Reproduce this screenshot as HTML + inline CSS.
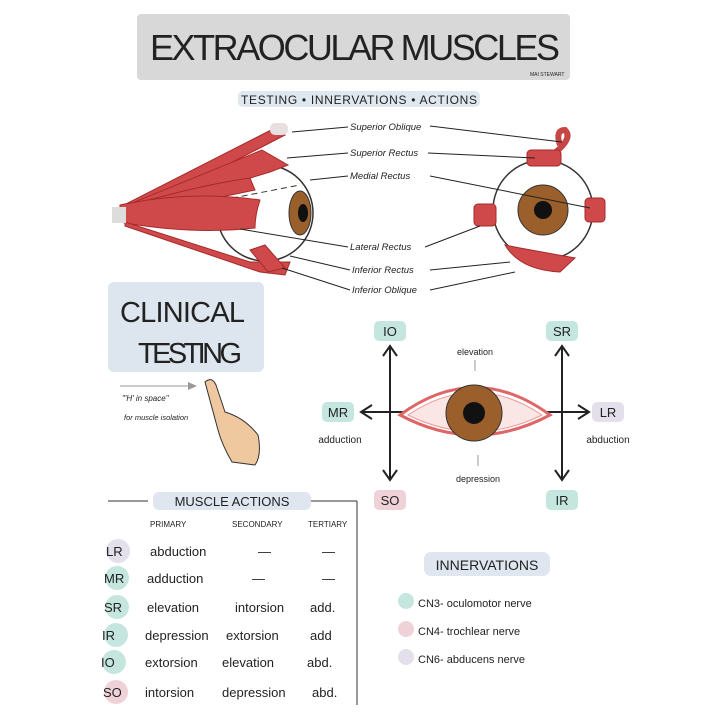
<!DOCTYPE html>
<html><head><meta charset="utf-8"><style>
html,body{margin:0;padding:0;background:#fff;}
svg{display:block;}
text{font-family:"Liberation Sans",sans-serif;fill:#222;}
</style></head><body>
<svg width="720" height="712" viewBox="0 0 720 712" xmlns="http://www.w3.org/2000/svg">
<rect width="720" height="712" fill="#fff"/>
<!-- title -->
<rect x="137" y="14" width="433" height="66" rx="4" fill="#d8d8d8"/>
<text x="355" y="60" font-size="36" text-anchor="middle" fill="#222" textLength="410" lengthAdjust="spacing">EXTRAOCULAR MUSCLES</text>
<text x="530" y="76" font-size="5" fill="#555">MAI STEWART</text>
<rect x="238" y="91" width="242" height="16" rx="5" fill="#dfe7ef"/>
<text x="359" y="104" font-size="12" text-anchor="middle" textLength="236">TESTING • INNERVATIONS • ACTIONS</text>

<!-- left eye -->
<circle cx="265" cy="213" r="48" fill="#fff" stroke="#333" stroke-width="1.5"/>
<ellipse cx="300" cy="213" rx="11" ry="22" fill="#9a5f2a" stroke="#333"/>
<ellipse cx="303" cy="213" rx="5" ry="9" fill="#111"/>
<line x1="222" y1="200" x2="300" y2="185" stroke="#333" stroke-dasharray="6,4"/>
<g fill="#d0494a" stroke="#a52a2a" stroke-width="1">
<path d="M120 207 L275 128 L285 135 L130 215Z"/>
<path d="M120 208 L262 150 L288 165 L270 172 L130 215Z"/>
<path d="M120 208 Q200 185 250 178 L255 190 L130 216Z"/>
<path d="M120 205 Q190 190 260 200 Q255 215 255 228 Q190 235 120 222Z"/>
<path d="M125 222 L250 262 L290 262 L285 275 L260 272 L125 226Z"/>
<path d="M250 250 L265 245 L285 268 L268 272Z"/>
</g>
<rect x="112" y="207" width="14" height="16" fill="#ddd"/>
<rect x="270" y="123" width="18" height="12" rx="5" fill="#e8e0e0"/>
<!-- right eye -->
<path d="M545 160 Q575 140 565 130 Q555 130 560 145" fill="none" stroke="#c84545" stroke-width="6"/>
<circle cx="543" cy="210" r="50" fill="#fff" stroke="#333" stroke-width="1.5"/>
<circle cx="543" cy="210" r="25" fill="#9a5f2a" stroke="#333"/>
<circle cx="543" cy="210" r="9" fill="#111"/>
<g fill="#d0494a" stroke="#a52a2a">
<rect x="527" y="150" width="34" height="16" rx="4"/>
<rect x="474" y="204" width="22" height="22" rx="4"/>
<rect x="585" y="198" width="20" height="24" rx="4"/>
<path d="M505 245 Q520 270 560 272 L575 258 L520 248Z"/>
</g>
<!-- labels -->
<g font-size="9.5" font-style="italic">
<text x="350" y="130">Superior Oblique</text>
<text x="350" y="156">Superior Rectus</text>
<text x="350" y="179">Medial Rectus</text>
<text x="350" y="250">Lateral Rectus</text>
<text x="352" y="273">Inferior Rectus</text>
<text x="352" y="293">Inferior Oblique</text>
</g>
<g stroke="#222" stroke-width="1" fill="none">
<line x1="292" y1="132" x2="348" y2="127"/><line x1="430" y1="126" x2="562" y2="142"/>
<line x1="287" y1="158" x2="348" y2="153"/><line x1="428" y1="153" x2="535" y2="158"/>
<line x1="310" y1="180" x2="348" y2="176"/><line x1="430" y1="176" x2="590" y2="208"/>
<line x1="240" y1="229" x2="348" y2="247"/><line x1="425" y1="247" x2="480" y2="226"/>
<line x1="290" y1="256" x2="350" y2="270"/><line x1="430" y1="270" x2="510" y2="262"/>
<line x1="282" y1="268" x2="350" y2="290"/><line x1="430" y1="290" x2="515" y2="272"/>
</g>

<!-- clinical testing -->
<rect x="108" y="282" width="156" height="90" rx="6" fill="#dde6ee"/>
<text x="120" y="322" font-size="29" textLength="125">CLINICAL</text>
<text x="138" y="363" font-size="29" textLength="104">TESTING</text>
<text x="122" y="401" font-size="8" font-style="italic">"'H' in space"</text>
<text x="124" y="420" font-size="7.5" font-style="italic">for muscle isolation</text>
<line x1="120" y1="386" x2="195" y2="386" stroke="#999"/>
<path d="M197 386 L188 382 L188 390Z" fill="#999"/>
<path d="M205 382 Q212 376 216 385 L225 412 Q245 418 258 435 Q262 455 255 465 L232 462 Q222 445 218 430 Z" fill="#f0c8a0" stroke="#333"/>

<!-- H diagram -->
<g stroke="#222" stroke-width="2" fill="none">
<line x1="390" y1="348" x2="390" y2="478"/>
<line x1="562" y1="348" x2="562" y2="478"/>
<line x1="362" y1="412" x2="588" y2="412"/>
<path d="M383 356 L390 346 L397 356"/><path d="M383 470 L390 480 L397 470"/>
<path d="M555 356 L562 346 L569 356"/><path d="M555 470 L562 480 L569 470"/>
<path d="M372 405 L361 412 L372 419"/><path d="M578 405 L589 412 L578 419"/>
</g>
<path d="M400 415 Q475 360 550 415 Q475 455 400 415Z" fill="#fff" stroke="#d66" stroke-width="3"/>
<path d="M408 415 Q475 370 542 415 Q475 448 408 415Z" fill="#fbe6e6" stroke="#e99" stroke-width="1"/>
<circle cx="474" cy="413" r="28" fill="#9a5f2a" stroke="#333"/>
<circle cx="474" cy="413" r="11" fill="#111"/>
<text x="475" y="355" font-size="9" fill="#555" text-anchor="middle">elevation</text>
<line x1="475" y1="360" x2="475" y2="371" stroke="#999"/>
<text x="478" y="482" font-size="9" fill="#555" text-anchor="middle">depression</text>
<line x1="478" y1="455" x2="478" y2="466" stroke="#999"/>
<text x="340" y="443" font-size="10" text-anchor="middle">adduction</text>
<text x="608" y="443" font-size="10" text-anchor="middle">abduction</text>
<g font-size="13" text-anchor="middle">
<rect x="374" y="321" width="32" height="20" rx="5" fill="#c5e6df"/><text x="390" y="336">IO</text>
<rect x="546" y="321" width="32" height="20" rx="5" fill="#c5e6df"/><text x="562" y="336">SR</text>
<rect x="322" y="402" width="32" height="20" rx="5" fill="#c5e6df"/><text x="338" y="417">MR</text>
<rect x="592" y="402" width="32" height="20" rx="5" fill="#e3e0ec"/><text x="608" y="417">LR</text>
<rect x="374" y="490" width="32" height="20" rx="5" fill="#efd2d8"/><text x="390" y="505">SO</text>
<rect x="546" y="490" width="32" height="20" rx="5" fill="#c5e6df"/><text x="562" y="505">IR</text>
</g>

<!-- muscle actions -->
<line x1="108" y1="501" x2="148" y2="501" stroke="#333"/>
<line x1="308" y1="501" x2="357" y2="501" stroke="#333"/>
<line x1="357" y1="501" x2="357" y2="705" stroke="#333"/>
<rect x="153" y="492" width="158" height="18" rx="6" fill="#dfe6ef"/>
<text x="232" y="506" font-size="13" text-anchor="middle">MUSCLE ACTIONS</text>
<g font-size="8">
<text x="150" y="527" fill="#666">PRIMARY</text><text x="232" y="527" fill="#666">SECONDARY</text><text x="308" y="527" fill="#666">TERTIARY</text>
</g>
<g font-size="13">
<circle cx="118" cy="551" r="12" fill="#e3e0ec"/><circle cx="117" cy="578" r="12" fill="#c5e6df"/>
<circle cx="117" cy="607" r="12" fill="#c5e6df"/><circle cx="116" cy="635" r="12" fill="#c5e6df"/>
<circle cx="114" cy="662" r="12" fill="#c5e6df"/><circle cx="116" cy="692" r="12" fill="#efd2d8"/>
<text x="106" y="556">LR</text><text x="150" y="556">abduction</text><text x="258" y="556">—</text><text x="322" y="556">—</text>
<text x="104" y="583">MR</text><text x="147" y="583">adduction</text><text x="252" y="583">—</text><text x="322" y="583">—</text>
<text x="104" y="612">SR</text><text x="147" y="612">elevation</text><text x="235" y="612">intorsion</text><text x="310" y="612">add.</text>
<text x="102" y="640">IR</text><text x="145" y="640">depression</text><text x="226" y="640">extorsion</text><text x="310" y="640">add</text>
<text x="101" y="667">IO</text><text x="145" y="667">extorsion</text><text x="222" y="667">elevation</text><text x="307" y="667">abd.</text>
<text x="103" y="697">SO</text><text x="145" y="697">intorsion</text><text x="222" y="697">depression</text><text x="312" y="697">abd.</text>
</g>

<!-- innervations -->
<rect x="424" y="552" width="126" height="24" rx="7" fill="#dfe6ef"/>
<text x="487" y="570" font-size="14" text-anchor="middle">INNERVATIONS</text>
<g font-size="11">
<circle cx="406" cy="601" r="8" fill="#c5e6df"/><text x="418" y="607">CN3- oculomotor nerve</text>
<circle cx="406" cy="629" r="8" fill="#efd2d8"/><text x="418" y="635">CN4- trochlear nerve</text>
<circle cx="406" cy="657" r="8" fill="#e3e0ec"/><text x="418" y="663">CN6- abducens nerve</text>
</g>
</svg>
</body></html>
